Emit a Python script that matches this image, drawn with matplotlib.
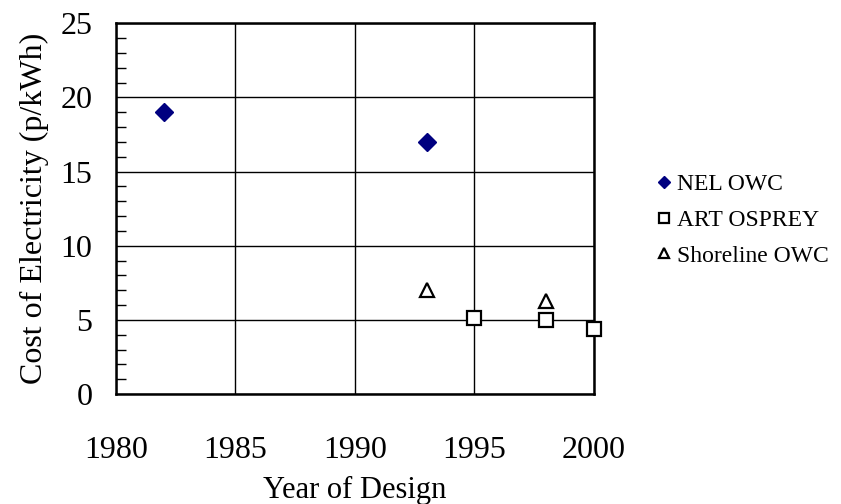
import matplotlib.pyplot as plt
from matplotlib.ticker import MultipleLocator

plt.rcParams['font.family'] = ['Liberation Serif', 'DejaVu Serif']

# data
nel_year = [1982, 1993]
nel_cost = [19.0, 17.0]
art_year = [1995, 1998, 2000]
art_cost = [5.1, 5.0, 4.4]
shore_year = [1993, 1998]
shore_cost = [7.0, 6.3]

fig = plt.figure(figsize=(8.41, 5.04), dpi=100)
ax = fig.add_axes([0.138, 0.218, 0.568, 0.736])

ax.plot(nel_year, nel_cost, linestyle='none', marker='D', markersize=9,
        color='#000080', label='NEL OWC', clip_on=False, zorder=3)
ax.plot(art_year, art_cost, linestyle='none', marker='s', markersize=10,
        markerfacecolor='white', markeredgecolor='black', markeredgewidth=1.6,
        label='ART OSPREY', clip_on=False, zorder=3)
ax.plot(shore_year, shore_cost, linestyle='none', marker='^', markersize=10,
        markerfacecolor='white', markeredgecolor='black', markeredgewidth=1.6,
        label='Shoreline OWC', clip_on=False, zorder=3)

ax.set_xlim(1980, 2000)
ax.set_ylim(0, 25)
ax.xaxis.set_major_locator(MultipleLocator(5))
ax.yaxis.set_major_locator(MultipleLocator(5))
ax.yaxis.set_minor_locator(MultipleLocator(1))
ax.grid(True, which='major', color='black', linewidth=1.0)
ax.set_axisbelow(True)

ax.tick_params(axis='both', which='major', length=0, labelsize=23)
ax.tick_params(axis='x', pad=30)
ax.tick_params(axis='y', pad=17)
ax.tick_params(axis='y', which='minor', direction='in', length=7, width=1, left=True)
ax.tick_params(axis='x', which='minor', bottom=False)

for s in ax.spines.values():
    s.set_linewidth(1.8)
    s.set_color('black')

ax.set_xlabel('Year of Design', fontsize=22, labelpad=8)
ax.set_ylabel('Cost of Electricity (p/kWh)', fontsize=23, labelpad=8)

leg = ax.legend(loc='center left', bbox_to_anchor=(0.757, 0.563),
                bbox_transform=fig.transFigure, frameon=False, fontsize=17,
                handlelength=0.5, handletextpad=0.3, labelspacing=0.6,
                markerscale=0.7)

fig.savefig('out.png', dpi=100)
